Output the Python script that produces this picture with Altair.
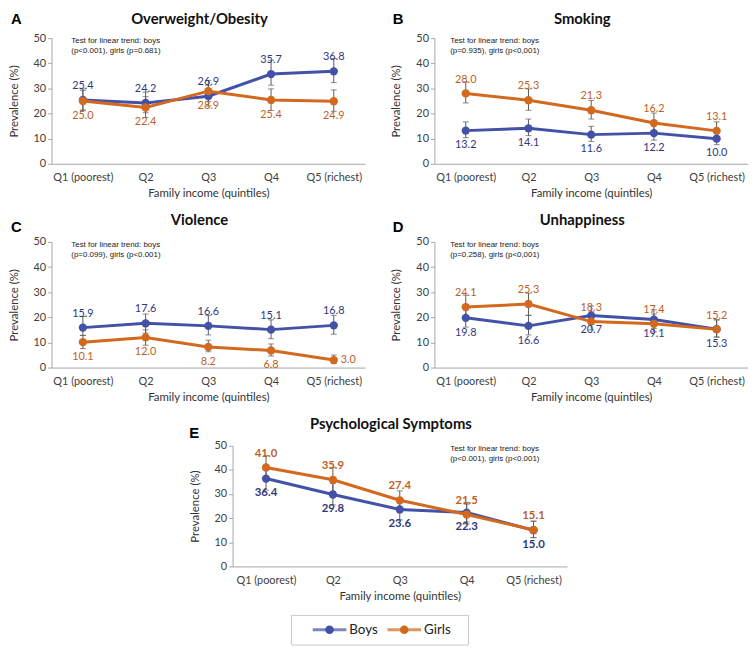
import altair as alt
import pandas as pd

quintiles = ["Q1 (poorest)", "Q2", "Q3", "Q4", "Q5 (richest)"]
sexes = ["Boys", "Girls"]
line_colors = ["#4352A8", "#D2691E"]
label_colors = ["#30377C", "#C05F27"]
err_color = "#5a5a5a"

panel_keys = ["A", "B", "C", "D", "E"]
panel_titles = ["Overweight/Obesity", "Smoking", "Violence", "Unhappiness", "Psychological Symptoms"]
trend_texts = [
    "Test for linear trend: boys\n(p<0.001), girls (p=0.681)",
    "Test for linear trend: boys\n(p=0.935), girls (p<0,001)",
    "Test for linear trend: boys\n(p=0.099), girls (p<0.001)",
    "Test for linear trend: boys\n(p=0.258), girls (p<0,001)",
    "Test for linear trend: boys\n(p<0.001), girls (p<0.001)",
]

# A: Overweight/Obesity
a_boys = [25.4, 24.2, 26.9, 35.7, 36.8]
a_boys_lo = [21.4, 20.3, 23.0, 31.3, 32.3]
a_boys_hi = [29.8, 28.5, 31.2, 41.2, 41.9]
a_girls = [25.0, 22.4, 28.9, 25.4, 24.9]
a_girls_lo = [21.1, 18.4, 24.8, 21.2, 20.9]
a_girls_hi = [29.2, 26.7, 33.2, 29.8, 29.4]
# B: Smoking
b_boys = [13.2, 14.1, 11.6, 12.2, 10.0]
b_boys_lo = [10.4, 11.2, 8.9, 9.4, 7.6]
b_boys_hi = [16.7, 17.8, 14.9, 15.1, 13.1]
b_girls = [28.0, 25.3, 21.3, 16.2, 13.1]
b_girls_lo = [24.2, 21.3, 17.8, 12.8, 10.4]
b_girls_hi = [32.6, 29.8, 25.2, 20.2, 16.7]
# C: Violence
c_boys = [15.9, 17.6, 16.6, 15.1, 16.8]
c_boys_lo = [12.8, 13.7, 13.0, 11.5, 13.3]
c_boys_hi = [20.3, 21.3, 20.7, 19.0, 20.8]
c_girls = [10.1, 12.0, 8.2, 6.8, 3.0]
c_girls_lo = [7.6, 8.9, 6.3, 4.6, 1.6]
c_girls_hi = [12.8, 15.0, 10.9, 9.4, 5.0]
# D: Unhappiness
d_boys = [19.8, 16.6, 20.7, 19.1, 15.3]
d_boys_lo = [16.1, 13.0, 17.3, 15.6, 12.2]
d_boys_hi = [24.0, 20.8, 24.5, 23.0, 19.0]
d_girls = [24.1, 25.3, 18.3, 17.4, 15.2]
d_girls_lo = [19.8, 20.8, 15.0, 14.2, 12.1]
d_girls_hi = [28.8, 29.6, 22.2, 21.3, 19.0]
# E: Psychological symptoms
e_boys = [36.4, 29.8, 23.6, 22.3, 15.0]
e_boys_lo = [31.6, 25.5, 19.3, 18.5, 11.9]
e_boys_hi = [41.2, 34.4, 28.0, 26.5, 18.7]
e_girls = [41.0, 35.9, 27.4, 21.5, 15.1]
e_girls_lo = [36.3, 31.0, 23.4, 17.6, 12.0]
e_girls_hi = [45.9, 41.1, 31.3, 25.8, 18.8]

series = {
    "A": {"Boys": (a_boys, a_boys_lo, a_boys_hi), "Girls": (a_girls, a_girls_lo, a_girls_hi)},
    "B": {"Boys": (b_boys, b_boys_lo, b_boys_hi), "Girls": (b_girls, b_girls_lo, b_girls_hi)},
    "C": {"Boys": (c_boys, c_boys_lo, c_boys_hi), "Girls": (c_girls, c_girls_lo, c_girls_hi)},
    "D": {"Boys": (d_boys, d_boys_lo, d_boys_hi), "Girls": (d_girls, d_girls_lo, d_girls_hi)},
    "E": {"Boys": (e_boys, e_boys_lo, e_boys_hi), "Girls": (e_girls, e_girls_lo, e_girls_hi)},
}
label_above = {"A": "Boys", "B": "Girls", "C": "Boys", "D": "Girls", "E": "Girls"}
label_right = [("C", "Girls", "Q5 (richest)")]

FONT = "Lato"
AXIS_C = "#a6a6a6"

xaxis = alt.Axis(title="Family income (quintiles)", labelAngle=0, ticks=False, tickSize=0,
                 domainColor=AXIS_C, labelColor="#404040", labelFontSize=11, labelFont=FONT,
                 titleFont=FONT, titleFontSize=11.5, titleFontWeight="normal", titleColor="#333333",
                 labelPadding=8, titlePadding=5)
yaxis = alt.Axis(title="Prevalence (%)", values=[0, 10, 20, 30, 40, 50], grid=False, tickSize=4,
                 tickColor=AXIS_C, domainColor=AXIS_C, labelColor="#404040", labelFontSize=11,
                 labelFont=FONT, titleFont=FONT, titleFontSize=11.5, titleFontWeight="normal",
                 titleColor="#333333", labelPadding=2, titlePadding=14)
yscale = alt.Scale(domain=[0, 50], nice=False)
color_scale = alt.Scale(domain=sexes, range=line_colors)
fill_scale = alt.Scale(domain=sexes, range=label_colors)


def panel(i, width, height, letter_x, letter_y, title_y, trend_x, bold=False):
    key = panel_keys[i]
    recs = []
    for sex in sexes:
        v, lo, hi = series[key][sex]
        for q, a, b, c in zip(quintiles, v, lo, hi):
            if (key, sex, q) in label_right:
                pos = "right"
            elif sex == label_above[key]:
                pos = "above"
            else:
                pos = "below"
            recs.append(dict(quintile=q, sex=sex, value=a, lo=b, hi=c, pos=pos, label=f"{a:.1f}"))
    df = pd.DataFrame(recs)
    base = alt.Chart(df)
    x = alt.X("quintile:N", sort=quintiles,
              scale=alt.Scale(type="point", domain=quintiles, padding=0.5), axis=xaxis)
    y = alt.Y("value:Q", scale=yscale, axis=yaxis)
    ylo = alt.Y("lo:Q", scale=yscale, axis=yaxis)
    yhi = alt.Y("hi:Q", scale=yscale, axis=yaxis)

    layers = [
        base.mark_rule(color=err_color, strokeWidth=1).encode(x=x, y=ylo, y2="hi:Q"),
        base.mark_tick(color=err_color, thickness=1, size=6).encode(x=x, y=ylo),
        base.mark_tick(color=err_color, thickness=1, size=6).encode(x=x, y=yhi),
    ]
    for sex in sexes:
        sb = base.transform_filter(alt.datum.sex == sex)
        col = alt.Color("sex:N", scale=color_scale, legend=None)
        layers.append(sb.mark_line(strokeWidth=3).encode(x=x, y=y, color=col))
        layers.append(sb.mark_circle(size=70, opacity=1).encode(x=x, y=y, color=col))
    fs = 11.5 if bold else 11
    fw = "bold" if bold else "normal"
    fill = alt.Fill("sex:N", scale=fill_scale, legend=None)
    layers.append(base.transform_filter(alt.datum.pos == "above")
                  .mark_text(dy=-14, baseline="middle", font=FONT, fontSize=fs, fontWeight=fw)
                  .encode(x=x, y=y, text="label:N", fill=fill))
    layers.append(base.transform_filter(alt.datum.pos == "below")
                  .mark_text(dy=15, baseline="middle", font=FONT, fontSize=fs, fontWeight=fw)
                  .encode(x=x, y=y, text="label:N", fill=fill))
    layers.append(base.transform_filter(alt.datum.pos == "right")
                  .mark_text(dx=7, align="left", baseline="middle", font=FONT, fontSize=fs, fontWeight=fw)
                  .encode(x=x, y=y, text="label:N", fill=fill))
    # trend-test note
    layers.append(alt.Chart(pd.DataFrame({"t": [trend_texts[i]]}))
                  .mark_text(align="left", baseline="top", lineBreak="\n", lineHeight=10,
                             font="Liberation Sans", fontSize=8, color="#222222")
                  .encode(text="t:N", x=alt.value(trend_x), y=alt.value(-1)))
    # panel title
    layers.append(alt.Chart(pd.DataFrame({"t": [panel_titles[i]]}))
                  .mark_text(align="center", baseline="top", font=FONT, fontSize=15,
                             fontWeight="bold", color="#111111")
                  .encode(text="t:N", x=alt.value(width / 2 - 9), y=alt.value(title_y)))
    # panel letter
    layers.append(alt.Chart(pd.DataFrame({"t": [key]}))
                  .mark_text(align="left", baseline="top", font="Liberation Sans", fontSize=15,
                             fontWeight="bold", color="#000000")
                  .encode(text="t:N", x=alt.value(letter_x), y=alt.value(letter_y)))
    return alt.layer(*layers).properties(width=width, height=height)


def spacer(w):
    return alt.Chart(pd.DataFrame({"a": [0]})).mark_point(opacity=0).properties(width=w, height=10)


pA = panel(0, 317, 127, -41, -26.5, -26.5, 20)
pB = panel(1, 317, 127, -42, -26.5, -26.5, 16)
pC = panel(2, 317, 127, -41, -22, -28.7, 20)
pD = panel(3, 317, 127, -42, -22, -28.7, 16)
pE = panel(4, 338, 122, -43.7, -20, -28.5, 220, bold=True)

# legend: a line-and-dot key per series inside a thin grey box
leg_df = pd.DataFrame({"sex": sexes, "slot": list(range(len(sexes)))})
LEG_W = 179
lx = alt.X("slot:Q", scale=alt.Scale(domain=[-39 / 75.5, (LEG_W - 39) / 75.5], nice=False, zero=False),
           axis=None)
lcol = alt.Color("sex:N", scale=color_scale, legend=None)
leg_base = alt.Chart(leg_df)
legend = alt.layer(
    leg_base.mark_tick(orient="horizontal", size=34, thickness=3).encode(x=lx, y=alt.value(15), color=lcol),
    leg_base.mark_circle(size=75, opacity=1).encode(x=lx, y=alt.value(15), color=lcol),
    leg_base.mark_text(align="left", baseline="middle", dx=20, font=FONT, fontSize=13.5, color="#222222")
    .encode(x=lx, y=alt.value(15), text="sex:N"),
).properties(width=LEG_W, height=30, view=alt.ViewBackground(stroke="#c8c8c8", strokeWidth=1))

row1 = alt.hconcat(pA, pB, spacing=70, bounds="flush")
row2 = alt.hconcat(pC, pD, spacing=70, bounds="flush")
row3 = alt.hconcat(spacer(183), pE, spacing=0, bounds="flush")
row4 = alt.hconcat(spacer(242), legend, spacing=0, bounds="flush")

upper = alt.vconcat(row1, row2, row3, spacing=14)
chart = (alt.vconcat(upper, row4, spacing=12)
         .properties(padding=0)
         .configure_view(stroke=None))

chart.save("out.html", embed_options={"renderer": "svg", "actions": False})
